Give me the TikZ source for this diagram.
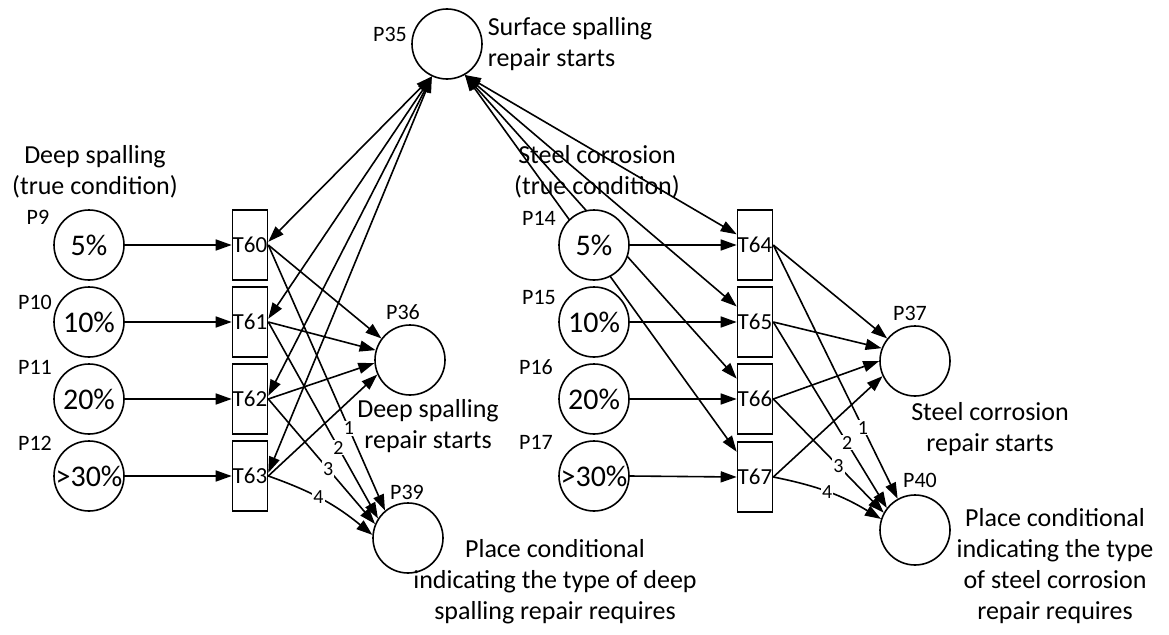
\documentclass[tikz,border=0pt]{standalone}
\usepackage{fontspec}
\setmainfont{Carlito}
\usetikzlibrary{arrows.meta}
\pgfdeclarelayer{edges}
\pgfsetlayers{edges,main}
\begin{document}
\begin{tikzpicture}[x=1pt,y=-1pt, line width=1.6pt,
  place/.style={circle,draw,line width=1.6pt,fill=white,minimum size=70pt,inner sep=0pt,font=\fontsize{30}{30}\selectfont},
  trans/.style={rectangle,draw,line width=1.6pt,fill=white,minimum width=35pt,minimum height=70pt,inner sep=0pt,font=\fontsize{23}{23}\selectfont},
  plabel/.style={font=\fontsize{22}{22}\selectfont, inner sep=0pt},
  caption/.style={font=\fontsize{26}{31}\selectfont, align=center, inner sep=0pt},
  arc/.style={line width=1.6pt,-{Triangle[length=16pt,width=11pt]}},
  biarc/.style={line width=1.6pt,{Triangle[length=16pt,width=11pt]}-{Triangle[length=16pt,width=11pt]}},
  wlabel/.style={font=\fontsize{20}{20}\selectfont, fill=white, inner sep=1pt}]
\useasboundingbox (0,0) rectangle (1169,634);

% places
\node[place] (P35) at (447,44) {};
\node[place] (P9)  at (89,245) {5\%};
\node[place] (P10) at (89,322) {10\%};
\node[place] (P11) at (89,399) {20\%};
\node[place] (P12) at (89,476) {>30\%};
\node[place] (P36) at (410,360) {};
\node[place] (P39) at (408,538) {};
\node[place] (P14) at (594,245) {5\%};
\node[place] (P15) at (594,322) {10\%};
\node[place] (P16) at (594,399) {20\%};
\node[place] (P17) at (594,476) {>30\%};
\node[place] (P37) at (915,361) {};
\node[place] (P40) at (915,530) {};

% transitions
\node[trans] (T60) at (250,245) {T60};
\node[trans] (T61) at (250,322) {T61};
\node[trans] (T62) at (250,399) {T62};
\node[trans] (T63) at (250,476) {T63};
\node[trans] (T64) at (755,245) {T64};
\node[trans] (T65) at (755,322) {T65};
\node[trans] (T66) at (755,399) {T66};
\node[trans] (T67) at (755,477) {T67};

% place labels
\node[plabel] (lP35) at (390,34) {P35};
\node[plabel] (lP9)  at (38,217) {P9};
\node[plabel] (lP10) at (35,302) {P10};
\node[plabel] (lP11) at (35,367) {P11};
\node[plabel] (lP12) at (35,443) {P12};
\node[plabel] (lP36) at (403,312) {P36};
\node[plabel] (lP39) at (407,492) {P39};
\node[plabel] (lP14) at (539,218) {P14};
\node[plabel] (lP15) at (539,297) {P15};
\node[plabel] (lP16) at (536,367) {P16};
\node[plabel] (lP17) at (536,442) {P17};
\node[plabel] (lP37) at (910,313) {P37};
\node[plabel] (lP40) at (920,480) {P40};

% captions
\node[caption, anchor=west, align=left] (cP35) at (487,44) {Surface spalling\\repair starts};
\node[caption] (cDeep) at (95,172) {Deep spalling\\(true condition)};
\node[caption] (cSteel) at (597,172) {Steel corrosion\\(true condition)};
\node[caption] (cP36) at (428,426) {Deep spalling\\repair starts};
\node[caption] (cP39) at (555,582) {Place conditional\\indicating the type of deep\\spalling repair requires};
\node[caption] (cP37) at (990,429) {Steel corrosion\\repair starts};
\node[caption] (cP40) at (1055,566) {Place conditional\\indicating the type\\of steel corrosion\\repair requires};

\begin{pgfonlayer}{edges}
% inputs
\foreach \p/\t in {P9/T60,P10/T61,P11/T62,P12/T63,P14/T64,P15/T65,P16/T66,P17/T67}
  \draw[arc] (\p.east) -- (\t.west);
% P35 double arcs
\foreach \t in {T60,T61,T62,T63}
  \draw[biarc] (P35.245) -- (\t.10);
\foreach \t in {T64,T65,T66,T67}
  \draw[biarc] (P35.-60) -- (\t);
% to P36
\draw[arc] (T60.east) -- (P36.143);
\draw[arc] (T61.east) -- (P36.164);
\draw[arc] (T62.east) -- (P36.185);
\draw[arc] (T63.east) -- (P36.204);
% to P39
\draw[arc] (T60.east) -- node[wlabel,pos=0.69]{1} (P39.130);
\draw[arc] (T61.east) -- node[wlabel,pos=0.64]{2} (P39.147);
\draw[arc] (T62.east) -- node[wlabel,pos=0.56]{3} (P39.157);
\draw[arc] (T63.east) to[bend left=10] node[wlabel,pos=0.45]{4} (P39.175);
% to P37
\draw[arc] (T64.east) -- (P37.141);
\draw[arc] (T65.east) -- (P37.159);
\draw[arc] (T66.east) -- (P37.180);
\draw[arc] (T67.east) -- (P37.205);
% to P40
\draw[arc] (T64.east) -- node[wlabel,pos=0.72]{1} (P40.119);
\draw[arc] (T65.east) -- node[wlabel,pos=0.65]{2} (P40.142);
\draw[arc] (T66.east) -- node[wlabel,pos=0.59]{3} (P40.151);
\draw[arc] (T67.east) to[bend left=10] node[wlabel,pos=0.48]{4} (P40.162);
\end{pgfonlayer}
\end{tikzpicture}
\end{document}
